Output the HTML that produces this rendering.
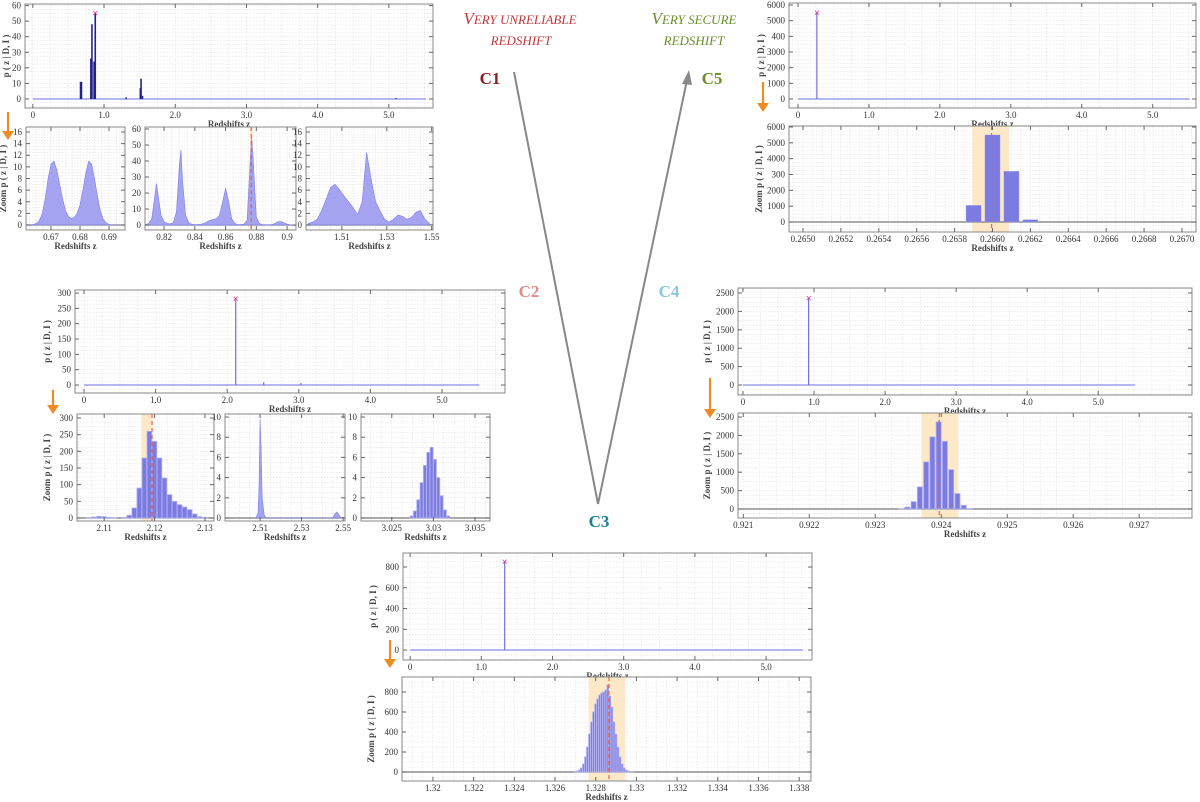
<!DOCTYPE html>
<html><head><meta charset="utf-8">
<style>
body{margin:0;background:#fff;}
svg{display:block;font-family:"Liberation Serif",serif;}
</style></head>
<body>
<svg id="fig" width="1200" height="802" viewBox="0 0 1200 802">
<g>
<text x="520" y="24" fill="#c0393f" font-style="italic" font-size="17" text-anchor="middle">V<tspan font-size="13">ERY UNRELIABLE</tspan></text>
<text x="521" y="45" fill="#c0393f" font-style="italic" font-size="13" text-anchor="middle">REDSHIFT</text>
<text x="694" y="24" fill="#6a8f2a" font-style="italic" font-size="17" text-anchor="middle">V<tspan font-size="13">ERY SECURE</tspan></text>
<text x="694" y="45" fill="#6a8f2a" font-style="italic" font-size="13" text-anchor="middle">REDSHIFT</text>
<text x="490" y="84" fill="#8b1e1e" font-weight="bold" font-size="17" text-anchor="middle">C1</text>
<text x="712" y="84" fill="#6a8f2a" font-weight="bold" font-size="17" text-anchor="middle">C5</text>
<text x="529" y="297" fill="#e38a8a" font-weight="bold" font-size="17" text-anchor="middle">C2</text>
<text x="669" y="297" fill="#86c8e0" font-weight="bold" font-size="17" text-anchor="middle">C4</text>
<text x="599" y="527" fill="#1f7f8e" font-weight="bold" font-size="17" text-anchor="middle">C3</text>
<line x1="514" y1="72" x2="598" y2="504" stroke="#888" stroke-width="2"/>
<line x1="598" y1="504" x2="687" y2="80" stroke="#888" stroke-width="2"/>
<polygon points="689,70 682,84 692,85" fill="#888"/>
</g>
<g id="arrows"></g>
<g id="panels"></g>
</svg>
<script>
// ---- data ----
const mainC1Z=[0.67,0.683,0.815,0.83,0.86,0.877,1.31,1.51,1.52,1.54,5.1];
const mainC1P=[11,11,26,48,24,55,1,7,13,2,0.5];
const zoomC1aZ=[0.662,0.663,0.664,0.665,0.666,0.667,0.668,0.669,0.670,0.671,0.672,0.673,0.674,0.675,0.676,0.677,0.678,0.679,0.680,0.681,0.682,0.683,0.684,0.685,0.686,0.687,0.688,0.689,0.690,0.691,0.692,0.693,0.694];
const zoomC1aP=[0,0,0.1,0.3,0.8,2,4.5,8,10.5,11,9.5,7,4.5,2.5,1.5,1.1,1.3,2,3.5,6,9,11,10.5,8,5,2.5,1,0.4,0.1,0,0,0,0];
const zoomC1bZ=[0.808,0.810,0.812,0.814,0.815,0.816,0.818,0.820,0.822,0.824,0.826,0.828,0.830,0.831,0.832,0.834,0.836,0.838,0.840,0.842,0.844,0.846,0.848,0.850,0.852,0.854,0.856,0.858,0.860,0.862,0.864,0.866,0.868,0.870,0.872,0.874,0.876,0.877,0.878,0.880,0.882,0.884,0.886,0.888,0.890,0.892,0.894,0.896,0.898,0.900,0.902,0.904];
const zoomC1bP=[0.3,1,4,18,26,20,6,2,1,0.8,1.5,8,38,47,28,6,1.5,0.5,0.3,0.3,0.5,1,2,3,3.5,4,6,14,23,15,4,1,0.3,0.3,0.5,3,40,55,40,5,1,0.3,0.2,0.2,0.3,1,2,2.2,1.5,0.5,0.2,0.1];
const zoomC1cZ=[1.495,1.497,1.499,1.501,1.503,1.505,1.507,1.509,1.511,1.513,1.515,1.517,1.519,1.521,1.523,1.525,1.527,1.529,1.531,1.533,1.535,1.537,1.539,1.541,1.543,1.545,1.547,1.549];
const zoomC1cP=[0.3,0.5,1,2.5,4.5,6.5,7,6,5,4,3,1.8,4,12.5,8,4,2.5,1,0.5,1,1.7,1.5,1,1.3,2.2,2.5,1,0.3];
const mainC2Z=[2.119,2.51,3.03];
const mainC2P=[280,9,7];
const zoomC2aZ=[2.105,2.106,2.107,2.108,2.109,2.110,2.111,2.112,2.113,2.114,2.115,2.116,2.117,2.118,2.119,2.120,2.121,2.122,2.123,2.124,2.125,2.126,2.127,2.128,2.129,2.130,2.131];
const zoomC2aP=[0,0,1,3,5,4,2,1,0,2,8,30,90,180,260,230,180,120,70,50,40,33,25,12,4,1,0];
const zoomC2bZ=[2.508,2.509,2.5095,2.510,2.5105,2.511,2.512,2.513,2.545,2.546,2.547,2.548,2.549];
const zoomC2bP=[0,0.5,3,9.8,7,2,0.3,0,0,0.4,0.6,0.3,0];
const zoomC2cZ=[3.0270,3.0274,3.0278,3.0282,3.0286,3.0290,3.0294,3.0298,3.0302,3.0306,3.0310,3.0314,3.0318,3.0322];
const zoomC2cP=[0,0.2,0.7,1.8,3.5,5.2,6.5,7,5.8,4,2.2,0.8,0.2,0];
const mainC4Z=[0.924];
const mainC4P=[2350];
const zoomC4Z=[0.92340,0.923495,0.92359,0.923685,0.92378,0.923875,0.92397,0.924065,0.92416,0.924255,0.92435,0.924445];
const zoomC4P=[5,50,200,600,1280,1960,2370,1840,1070,420,100,10];
const mainC5Z=[0.266];
const mainC5P=[5500];
const zoomC5Z=[0.2659,0.2660,0.2661,0.2662];
const zoomC5P=[1050,5500,3200,150];
const mainC3Z=[1.3286];
const mainC3P=[850];
const zoomC3Z=[1.3270,1.3271,1.3272,1.3273,1.3274,1.3275,1.3276,1.3277,1.3278,1.3279,1.3280,1.3281,1.3282,1.3283,1.3284,1.3285,1.3286,1.3287,1.3288,1.3289,1.3290,1.3291,1.3292,1.3293,1.3294,1.3295,1.3296,1.3297,1.3298];
const zoomC3P=[5,10,20,40,80,150,250,380,500,600,680,730,770,790,800,820,870,760,650,500,380,250,150,80,40,20,10,5,2];
const mainXTicks=[0,1,2,3,4,5];
const mainXLabels=["0","1.0","2.0","3.0","4.0","5.0"];
const c5MainYLabels=["0","1000","2000","3000","400","5000","6000"];
const c5ZoomYLabels=["0","1000","2000","300","4000","5000","6000"];

const NS="http://www.w3.org/2000/svg";
const root=document.getElementById('panels');
function el(tag,attrs,parent){const e=document.createElementNS(NS,tag);for(const k in attrs)e.setAttribute(k,attrs[k]);(parent||root).appendChild(e);return e;}

function panel(c){
  const g=el('g',{});
  
  
  const [L,T,R,B]=c.box;
  const sx=v=>L+(v-c.xd[0])/(c.xd[1]-c.xd[0])*(R-L);
  const sy=v=>B-(v-c.yd[0])/(c.yd[1]-c.yd[0])*(B-T);
  el('rect',{x:L,y:T,width:R-L,height:B-T,fill:'#fff'},g);
  const gx=(c.xt[1]-c.xt[0])/4, gy=(c.yt[1]-c.yt[0])/4;
  for(let v=c.xt[0]-8*gx;v<=c.xd[1];v+=gx){if(v<c.xd[0])continue;const x=sx(v);el('line',{x1:x,y1:T,x2:x,y2:B,stroke:'#e2e2e2','stroke-width':0.6,'stroke-dasharray':'1.5,1.5'},g);}
  for(let v=c.yt[0]-8*gy;v<=c.yd[1];v+=gy){if(v<c.yd[0])continue;const y=sy(v);el('line',{x1:L,y1:y,x2:R,y2:y,stroke:'#e2e2e2','stroke-width':0.6,'stroke-dasharray':'1.5,1.5'},g);}
  if(c.band){const b=el('rect',{x:sx(c.band[0]),y:T,width:sx(c.band[1])-sx(c.band[0]),height:B-T,fill:'#fde9c8'},g);}
  const y0=sy(0);
  const x1=c.base?sx(c.base[0]):L, x2=c.base?sx(c.base[1]):R;
  el('line',{x1:x1,y1:y0,x2:x2,y2:y0,stroke:c.spikes?'#8a8ae6':'#777','stroke-width':1.2},g);
  if(c.spikes){
    c.z.forEach((z,i)=>{const s=el('line',{x1:sx(z),y1:y0,x2:sx(z),y2:sy(c.p[i]),stroke:c.dark?'#23238a':'#7070dd','stroke-width':c.dark?1.6:1.2},g);
      });
    let mi=0;c.p.forEach((v,i)=>{if(v>c.p[mi])mi=i;});
    const mx=sx(c.z[mi]),my=sy(c.p[mi]);
    const m=el('text',{x:mx,y:my+3,fill:'#e0249a','font-size':10,'text-anchor':'middle','font-family':'Liberation Sans,sans-serif'},g);m.textContent='×';
    
  }
  if(c.area){
    let d='M'+sx(c.z[0])+','+y0;c.z.forEach((z,i)=>{d+=' L'+sx(z).toFixed(1)+','+sy(c.p[i]).toFixed(1);});d+=' L'+sx(c.z[c.z.length-1])+','+y0+'Z';
    const a=el('path',{d:d,fill:'#9a9af0',stroke:'#8080e8','stroke-width':0.6,'fill-opacity':0.9},g);
    
  }
  if(c.bars){
    c.z.forEach((z,i)=>{const b=el('rect',{x:sx(z-c.bw/2),y:sy(c.p[i]),width:Math.max(0.8,sx(z+c.bw/2)-sx(z-c.bw/2)-c.gap),height:y0-sy(c.p[i]),fill:'#7b7be2',stroke:'#b0b0f0','stroke-width':c.gap?0.8:0.3},g);
      });
  }
  if(c.peak!==undefined){const r=el('line',{x1:sx(c.peak),y1:T,x2:sx(c.peak),y2:B,stroke:'#f0604a','stroke-width':1.2,'stroke-dasharray':'4,3'},g);}
  el('rect',{x:L,y:T,width:R-L,height:B-T,fill:'none',stroke:'#888','stroke-width':1},g);
  c.xt.forEach((v,i)=>{const x=sx(v);el('line',{x1:x,y1:B,x2:x,y2:B-4,stroke:'#666'},g);el('line',{x1:x,y1:T,x2:x,y2:T+4,stroke:'#666'},g);
    const t=el('text',{x:x,y:B+10,'font-size':9,'text-anchor':'middle',fill:'#333'},g);t.textContent=c.xl[i];});
  c.yt.forEach((v,i)=>{const y=sy(v);el('line',{x1:L,y1:y,x2:L+4,y2:y,stroke:'#666'},g);el('line',{x1:R,y1:y,x2:R-4,y2:y,stroke:'#666'},g);
    const t=el('text',{x:L-4,y:y+3,'font-size':9,'text-anchor':'end',fill:'#333'},g);t.textContent=c.yl[i];});
  const xl=el('text',{x:(L+R)/2,y:B+19,'font-size':9,'font-weight':'bold','text-anchor':'middle',fill:'#444'},g);xl.textContent='Redshifts  z';
  
  if(c.ylab){const yx=c.ylx,yy=(T+B)/2;const t=el('text',{x:yx,y:yy,'font-size':9,'font-weight':'bold','text-anchor':'middle',fill:'#444',transform:'rotate(-90 '+yx+' '+yy+')'},g);t.textContent=c.ylab;
    }
}
function rng(a,b,s){const r=[];for(let v=a;v<=b+s/1000;v+=s)r.push(+v.toFixed(6));return r;}
function lab(arr,d){return arr.map(v=>d===undefined?String(v):v.toFixed(d));}
const PY='p ( z | D, I )', ZY='Zoom  p ( z | D, I )';

panel({name:'c1-main',box:[25,4,433,108],xd:[-0.11,5.62],yd:[-5.8,61],xt:mainXTicks,xl:mainXLabels,yt:rng(0,60,10),yl:lab(rng(0,60,10)),z:mainC1Z,p:mainC1P,spikes:1,dark:1,base:[0,5.52],ylab:PY,ylx:9});
panel({name:'c1-zoom-a',box:[26,127,125,230],xd:[0.6614,0.6955],yd:[-0.86,16.86],xt:[0.67,0.68,0.69],xl:['0.67','0.68','0.69'],yt:rng(0,16,2),yl:lab(rng(0,16,2)),z:zoomC1aZ,p:zoomC1aP,area:1,ylab:ZY,ylx:6});
panel({name:'c1-zoom-b',box:[145,127,296,230],xd:[0.8076,0.9058],yd:[-3.1,61.25],xt:[0.82,0.84,0.86,0.88,0.9],xl:['0.82','0.84','0.86','0.88','0.9'],yt:rng(0,60,10),yl:lab(rng(0,60,10)),z:zoomC1bZ,p:zoomC1bP,area:1,band:[0.8758,0.8776],peak:0.8767});
panel({name:'c1-zoom-c',box:[306,127,433,230],xd:[1.494,1.5506],yd:[-0.86,16.86],xt:[1.51,1.53,1.55],xl:['1.51','1.53','1.55'],yt:rng(0,16,2),yl:lab(rng(0,16,2)),z:zoomC1cZ,p:zoomC1cP,area:1});
panel({name:'c5-main',box:[789,3,1196,108],xd:[-0.127,5.61],yd:[-574,6128],xt:mainXTicks,xl:mainXLabels,yt:rng(0,6000,1000),yl:c5MainYLabels,z:mainC5Z,p:mainC5P,spikes:1,base:[0,5.52],ylab:PY,ylx:764});
panel({name:'c5-zoom',box:[789,126,1196,232],xd:[0.264926,0.267074],yd:[-632,6063],xt:rng(0.265,0.267,0.0002),xl:lab(rng(0.265,0.267,0.0002),4),yt:rng(0,6000,1000),yl:c5ZoomYLabels,z:zoomC5Z,p:zoomC5P,bars:1,bw:0.00008,gap:0,band:[0.265893,0.266088],peak:0.265995,ylab:ZY,ylx:762});
panel({name:'c2-main',box:[75,290,505,393],xd:[-0.126,5.88],yd:[-26,310],xt:mainXTicks,xl:mainXLabels,yt:rng(0,300,50),yl:lab(rng(0,300,50)),z:mainC2Z,p:mainC2P,spikes:1,base:[0,5.52],ylab:PY,ylx:50});
panel({name:'c2-zoom-a',box:[77,414,214,521],xd:[2.1046,2.1318],yd:[-9,312],xt:[2.11,2.12,2.13],xl:['2.11','2.12','2.13'],yt:rng(0,300,50),yl:lab(rng(0,300,50)),z:zoomC2aZ,p:zoomC2aP,bars:1,bw:0.001,gap:0.3,band:[2.1174,2.1196],peak:2.1195,ylab:ZY,ylx:50});
panel({name:'c2-zoom-b',box:[225,414,345,521],xd:[2.4931,2.5509],yd:[-0.3,10.3],xt:[2.51,2.53,2.55],xl:['2.51','2.53','2.55'],yt:rng(0,10,2),yl:lab(rng(0,10,2)),z:zoomC2bZ,p:zoomC2bP,area:1});
panel({name:'c2-zoom-c',box:[361,414,490,521],xd:[3.0213,3.0368],yd:[-0.3,10.3],xt:[3.025,3.03,3.035],xl:['3.025','3.03','3.035'],yt:rng(0,10,2),yl:lab(rng(0,10,2)),z:zoomC2cZ,p:zoomC2cP,bars:1,bw:0.0004,gap:0.3});
panel({name:'c4-main',box:[738,288,1192,395],xd:[-0.07,6.32],yd:[-272,2636],xt:mainXTicks,xl:mainXLabels,yt:rng(0,2500,500),yl:lab(rng(0,2500,500)),z:mainC4Z,p:mainC4P,spikes:1,base:[0,5.52],ylab:PY,ylx:710});
panel({name:'c4-zoom',box:[738,413,1192,518],xd:[0.92092,0.92780],yd:[-245,2609],xt:rng(0.921,0.927,0.001),xl:lab(rng(0.921,0.927,0.001),3),yt:rng(0,2500,500),yl:lab(rng(0,2500,500)),z:zoomC4Z,p:zoomC4P,bars:1,bw:0.000095,gap:1.2,band:[0.92370,0.92426],peak:0.92397,ylab:ZY,ylx:710});
panel({name:'c3-main',box:[403,553,812,660],xd:[-0.1,5.645],yd:[-96,935],xt:mainXTicks,xl:mainXLabels,yt:rng(0,800,200),yl:lab(rng(0,800,200)),z:mainC3Z,p:mainC3P,spikes:1,base:[0,5.52],ylab:PY,ylx:376});
panel({name:'c3-zoom',box:[402,677,811,781],xd:[1.31848,1.33858],yd:[-90,950],xt:rng(1.32,1.338,0.002),xl:rng(1.32,1.338,0.002).map(v=>String(+v.toFixed(3))),yt:rng(0,800,200),yl:lab(rng(0,800,200)),z:zoomC3Z,p:zoomC3P,bars:1,bw:0.0001,gap:0.3,band:[1.32765,1.32945],peak:1.32865,ylab:ZY,ylx:374});

const arrowG=document.getElementById('arrows');
[[8,112,140],[763,82,112],[53,390,414],[710,378,418],[390,640,668]].forEach(a=>{
  const g=el('g',{},arrowG);
  
  
  el('line',{x1:a[0],y1:a[1],x2:a[0],y2:a[2]-7,stroke:'#f08a24','stroke-width':2.2},g);
  el('polygon',{points:(a[0]-6)+','+(a[2]-9)+' '+(a[0]+6)+','+(a[2]-9)+' '+a[0]+','+a[2],fill:'#f08a24'},g);
});
</script>
</body></html>
